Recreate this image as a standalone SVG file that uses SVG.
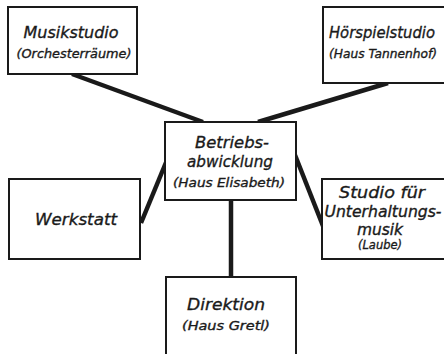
<svg xmlns="http://www.w3.org/2000/svg" width="444" height="354" viewBox="0 0 444 354">
<style>
.box{fill:#fff;stroke:#1a1a1a;stroke-width:2}
.t{font-family:"DejaVu Sans","Liberation Sans",sans-serif;font-style:italic;fill:#1a1a1a;stroke:#1a1a1a;stroke-width:0.35;text-anchor:middle}
.a{font-size:16px}
.s{font-size:15px}
.b{font-size:12px}
.c{stroke:#1a1a1a;stroke-width:4.5;fill:none;stroke-linecap:butt}
</style>
<rect width="444" height="354" fill="#fff"/>
<g id="connectors">
<line class="c" x1="72" y1="74" x2="203" y2="122"/>
<line class="c" x1="388" y1="83" x2="258" y2="122"/>
<line class="c" x1="141" y1="223" x2="167" y2="160"/>
<line class="c" x1="295" y1="155" x2="323" y2="226"/>
<line class="c" x1="231" y1="200" x2="231" y2="277"/>
</g>
<g id="musikstudio">
<rect class="box" x="8" y="7" width="129" height="67"/>
<text class="t a" x="71" y="38" textLength="95" lengthAdjust="spacingAndGlyphs">Musikstudio</text>
<text class="t b" x="74" y="58" textLength="115" lengthAdjust="spacingAndGlyphs">(Orchesterräume)</text>
</g>
<g id="hoerspielstudio">
<rect class="box" x="323" y="7" width="124" height="76"/>
<text class="t a" x="382" y="38" textLength="106" lengthAdjust="spacingAndGlyphs">Hörspielstudio</text>
<text class="t b" x="383" y="58" textLength="108" lengthAdjust="spacingAndGlyphs">(Haus Tannenhof)</text>
</g>
<g id="betriebsabwicklung">
<rect class="box" x="165" y="122" width="131" height="78"/>
<text class="t a" x="232" y="148" textLength="74" lengthAdjust="spacingAndGlyphs">Betriebs-</text>
<text class="t a" x="230" y="167" textLength="86" lengthAdjust="spacingAndGlyphs">abwicklung</text>
<text class="t b" x="229" y="187" textLength="112" lengthAdjust="spacingAndGlyphs">(Haus Elisabeth)</text>
</g>
<g id="werkstatt">
<rect class="box" x="9" y="179" width="131" height="80"/>
<text class="t a" x="76" y="225" textLength="82" lengthAdjust="spacingAndGlyphs">Werkstatt</text>
</g>
<g id="unterhaltungsmusik">
<rect class="box" x="322" y="179" width="126" height="80"/>
<text class="t a" x="382" y="198" textLength="86" lengthAdjust="spacingAndGlyphs">Studio für</text>
<text class="t s" x="383" y="217" textLength="117" lengthAdjust="spacingAndGlyphs">Unterhaltungs-</text>
<text class="t s" x="380" y="235" textLength="46" lengthAdjust="spacingAndGlyphs">musik</text>
<text class="t b" x="380" y="249" textLength="44" lengthAdjust="spacingAndGlyphs">(Laube)</text>
</g>
<g id="direktion">
<rect class="box" x="166" y="277" width="130" height="82"/>
<text class="t a" x="226" y="310" textLength="78" lengthAdjust="spacingAndGlyphs">Direktion</text>
<text class="t b" x="226" y="330" textLength="88" lengthAdjust="spacingAndGlyphs">(Haus Gretl)</text>
</g>
</svg>
